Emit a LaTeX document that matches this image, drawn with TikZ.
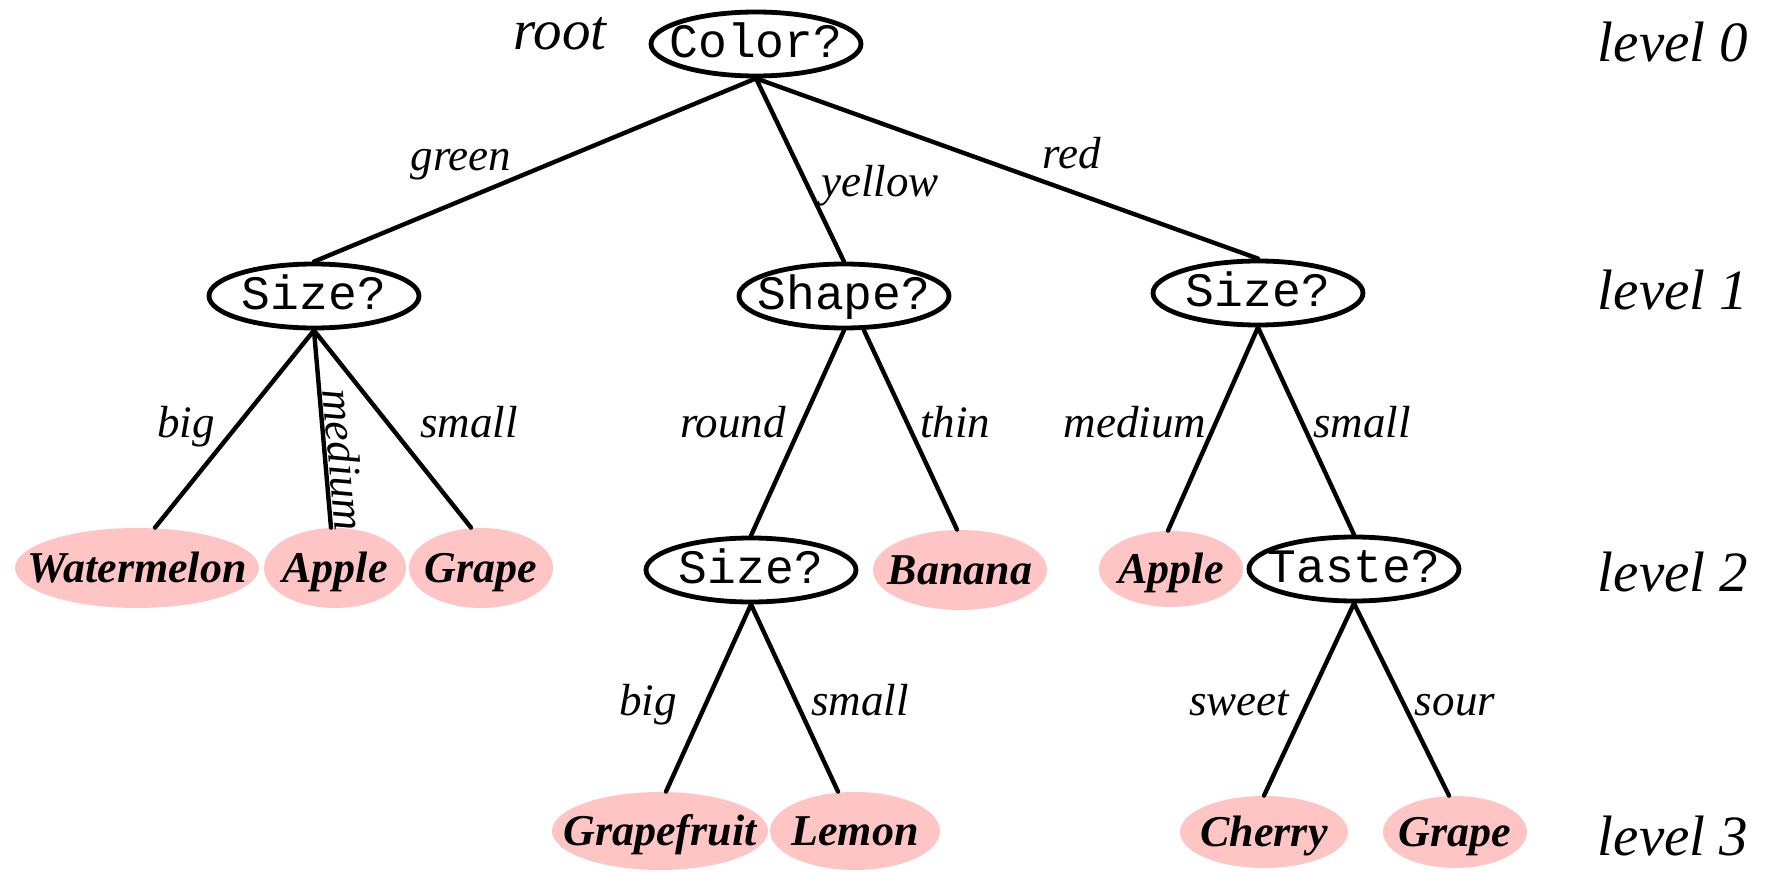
\documentclass[tikz,border=0pt]{standalone}
\usepackage{fontspec}
\setmainfont{Liberation Serif}
\newfontfamily\courfont{Liberation Mono}
\usetikzlibrary{shapes.geometric}
\definecolor{leafpink}{RGB}{255,197,197}
\newcommand{\fixw}[1]{\makebox[0pt][c]{#1}}
\begin{document}
\begin{tikzpicture}[x=0.5pt,y=-0.5pt,
  qnode/.style={ellipse, draw=black, line width=2.4pt, fill=white, inner sep=0pt,
    text height=13.5pt, text depth=0pt,
    minimum width=105pt, minimum height=32pt, font=\courfont\fontsize{24}{28}\selectfont},
  leaf/.style={ellipse, fill=leafpink, inner sep=0pt, text height=14.5pt, text depth=0pt,
    font=\bfseries\itshape\fontsize{22}{26}\selectfont},
  elabel/.style={anchor=base, inner sep=0pt, font=\itshape\fontsize{22.5}{27}\selectfont},
  lvl/.style={anchor=base, inner sep=0pt, font=\itshape\fontsize{28.5}{34}\selectfont},
  conn/.style={line width=2.2pt, line cap=round}
]
\useasboundingbox (0,0) rectangle (1769,872);

% question nodes
\node[qnode] (root) at (756,44) {\fixw{Color?}};
\node[qnode] (sizeL) at (314,296) {\fixw{Size?}};
\node[qnode] (shape) at (844,296) {\fixw{Shape?}};
\node[qnode] (sizeR) at (1258,293) {\fixw{Size?}};
\node[qnode] (sizeM) at (751,570) {\fixw{Size?}};
\node[qnode] (taste) at (1354,569) {\fixw{Taste?}};

% leaves
\node[leaf, minimum width=122pt, minimum height=40pt] (wm) at (137,568) {\fixw{Watermelon}};
\node[leaf, minimum width=71pt, minimum height=40pt] (appleL) at (335,568) {\fixw{Apple}};
\node[leaf, minimum width=72pt, minimum height=40pt] (grapeL) at (481,568) {\fixw{Grape}};
\node[leaf, minimum width=87pt, minimum height=40pt] (banana) at (960,570) {\fixw{Banana}};
\node[leaf, minimum width=72pt, minimum height=38pt] (appleR) at (1171,569) {\fixw{Apple}};
\node[leaf, minimum width=108pt, minimum height=39pt] (gfruit) at (660,831) {\fixw{Grapefruit}};
\node[leaf, minimum width=85pt, minimum height=39pt] (lemon) at (855,831) {\fixw{Lemon}};
\node[leaf, minimum width=84pt, minimum height=36pt] (cherry) at (1264,832) {\fixw{Cherry}};
\node[leaf, minimum width=72pt, minimum height=36pt] (grapeR) at (1455,832) {\fixw{Grape}};

% connectors
\draw[conn] (root.south) -- (sizeL.north);
\draw[conn] (root.south) -- (shape.north);
\draw[conn] (root.south) -- (sizeR.north);
\draw[conn] (sizeL.south) -- ([xshift=9pt]wm.north);
\draw[conn] (sizeL.south) -- ([xshift=-2pt]appleL.north);
\draw[conn] (sizeL.south) -- ([xshift=-5pt]grapeL.north);
\draw[conn] (shape.south) -- (sizeM.north);
\draw[conn] ([xshift=10pt]shape.south) -- ([xshift=-1.5pt]banana.north);
\draw[conn] (sizeR.south) -- ([xshift=-1.5pt]appleR.north);
\draw[conn] (sizeR.south) -- (taste.north);
\draw[conn] (sizeM.south) -- ([xshift=3pt]gfruit.north);
\draw[conn] (sizeM.south) -- ([xshift=-8.5pt]lemon.north);
\draw[conn] (taste.south) -- (cherry.north);
\draw[conn] (taste.south) -- ([xshift=-3pt]grapeR.north);

% edge labels
\node[elabel] (lgreen) at (461,170) {green};
\node[elabel] (lyellow) at (880,197) {yellow};
\node[elabel] (lred) at (1072,169) {red};
\node[elabel] (lbigL) at (186,437) {big};
\node[inner sep=0pt, rotate=-85, font=\itshape\fontsize{22.5}{27}\selectfont] (lmedL) at (344,460) {medium};
\node[elabel] (lsmallL) at (469,437) {small};
\node[elabel] (lround) at (733,437) {round};
\node[elabel] (lthin) at (955,437) {thin};
\node[elabel] (lmedR) at (1135,437) {medium};
\node[elabel] (lsmallR) at (1362,437) {small};
\node[elabel] (lbigM) at (648,715) {big};
\node[elabel] (lsmallM) at (860,715) {small};
\node[elabel] (lsweet) at (1239,715) {sweet};
\node[elabel] (lsour) at (1455,715) {sour};

% root and level labels
\node[lvl] (rootlabel) at (560,50) {root};
\node[lvl] (lv0) at (1673,62) {level 0};
\node[lvl] (lv1) at (1673,309) {level 1};
\node[lvl] (lv2) at (1673,591) {level 2};
\node[lvl] (lv3) at (1673,855) {level 3};
\end{tikzpicture}
\end{document}
